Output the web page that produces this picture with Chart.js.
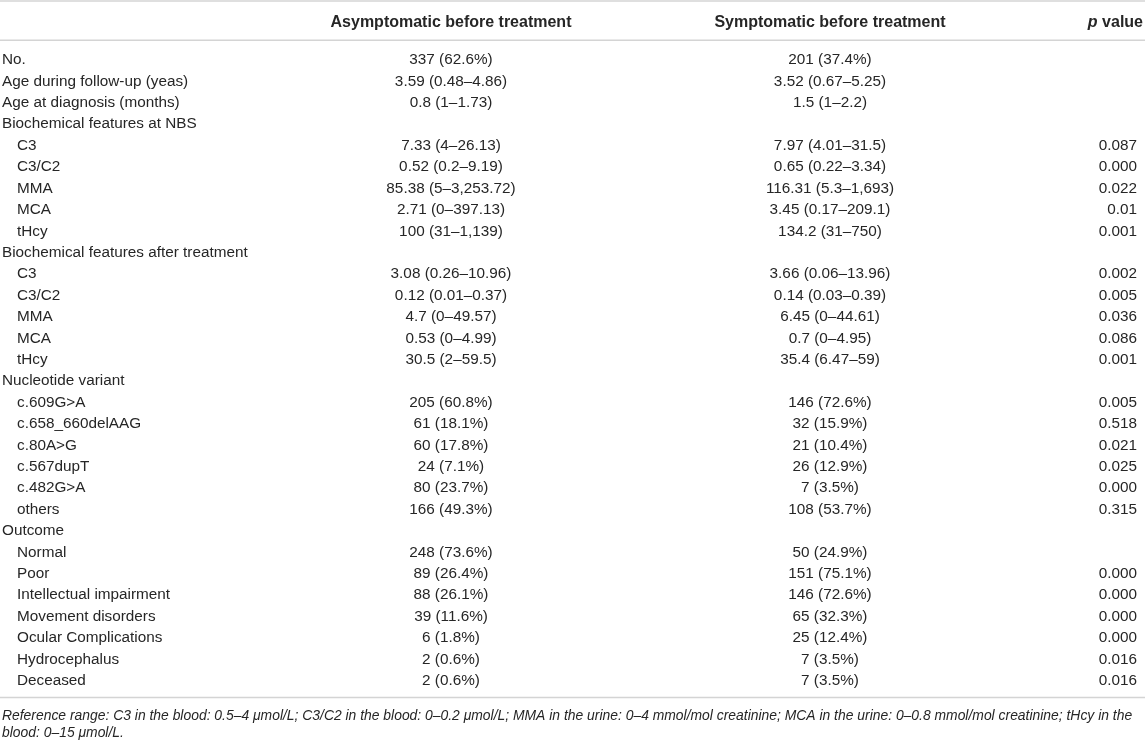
<!DOCTYPE html>
<html>
<head>
<meta charset="utf-8">
<script src="https://cdn.jsdelivr.net/npm/chart.js@4.4.1/dist/chart.umd.min.js"></script>
<style>
  body { margin: 0; background: #fff; }
  canvas { display: block; }
</style>
</head>
<body>
<canvas id="table" width="1145" height="746"></canvas>
<script>
// row labels, level 1 rows are the indented sub items
const rowLabels = [
    "No.", "Age during follow-up (yeas)", "Age at diagnosis (months)",
    "Biochemical features at NBS", "C3", "C3/C2", "MMA", "MCA", "tHcy",
    "Biochemical features after treatment", "C3", "C3/C2", "MMA", "MCA", "tHcy",
    "Nucleotide variant", "c.609G>A", "c.658_660delAAG", "c.80A>G", "c.567dupT", "c.482G>A", "others",
    "Outcome", "Normal", "Poor", "Intellectual impairment", "Movement disorders",
    "Ocular Complications", "Hydrocephalus", "Deceased"
];
const rowLevel = [0, 0, 0, 0, 1, 1, 1, 1, 1, 0, 1, 1, 1, 1, 1, 0, 1, 1, 1, 1, 1, 1, 0, 1, 1, 1, 1, 1, 1, 1];

const asymptomatic = [
    "337 (62.6%)", "3.59 (0.48–4.86)", "0.8 (1–1.73)",
    "", "7.33 (4–26.13)", "0.52 (0.2–9.19)", "85.38 (5–3,253.72)", "2.71 (0–397.13)", "100 (31–1,139)",
    "", "3.08 (0.26–10.96)", "0.12 (0.01–0.37)", "4.7 (0–49.57)", "0.53 (0–4.99)", "30.5 (2–59.5)",
    "", "205 (60.8%)", "61 (18.1%)", "60 (17.8%)", "24 (7.1%)", "80 (23.7%)", "166 (49.3%)",
    "", "248 (73.6%)", "89 (26.4%)", "88 (26.1%)", "39 (11.6%)", "6 (1.8%)", "2 (0.6%)", "2 (0.6%)"
];
const symptomatic = [
    "201 (37.4%)", "3.52 (0.67–5.25)", "1.5 (1–2.2)",
    "", "7.97 (4.01–31.5)", "0.65 (0.22–3.34)", "116.31 (5.3–1,693)", "3.45 (0.17–209.1)", "134.2 (31–750)",
    "", "3.66 (0.06–13.96)", "0.14 (0.03–0.39)", "6.45 (0–44.61)", "0.7 (0–4.95)", "35.4 (6.47–59)",
    "", "146 (72.6%)", "32 (15.9%)", "21 (10.4%)", "26 (12.9%)", "7 (3.5%)", "108 (53.7%)",
    "", "50 (24.9%)", "151 (75.1%)", "146 (72.6%)", "65 (32.3%)", "25 (12.4%)", "7 (3.5%)", "7 (3.5%)"
];
const pValues = [
    "", "", "",
    "", "0.087", "0.000", "0.022", "0.01", "0.001",
    "", "0.002", "0.005", "0.036", "0.086", "0.001",
    "", "0.005", "0.518", "0.021", "0.025", "0.000", "0.315",
    "", "", "0.000", "0.000", "0.000", "0.000", "0.016", "0.016"
];

const headers = ["", "Asymptomatic before treatment", "Symptomatic before treatment", "value"];
const footnote = [
    "Reference range: C3 in the blood: 0.5–4 μmol/L; C3/C2 in the blood: 0–0.2 μmol/L; MMA in the urine: 0–4 mmol/mol creatinine; MCA in the urine: 0–0.8 mmol/mol creatinine; tHcy in the",
    "blood: 0–15 μmol/L."
];

// column anchors on the x scale (pixels since x runs 0..1145 over the full width)
const colX = [2, 451, 830, 1137];
const colAlign = ["left", "center", "center", "right"];
const indent = 15;

const FONT = '"Liberation Sans", Arial, sans-serif';
const TEXT = "#262626";
const RULE = "#d4d4d4";

function column(cells, i) {
    return {
        data: cells.map((c, j) => ({ x: colX[i], y: j })),
        cells: cells,
        align: colAlign[i],
        pointRadius: 0,
        pointHoverRadius: 0
    };
}

const tablePlugin = {
    id: "tableText",
    afterDatasetsDraw(chart) {
        const ctx = chart.ctx;
        const area = chart.chartArea;
        const x = chart.scales.x;
        ctx.save();

        // rules
        ctx.strokeStyle = RULE;
        ctx.lineWidth = 1.5;
        [1, area.top - 9, area.bottom + 6].forEach(y => {
            ctx.beginPath();
            ctx.moveTo(0, y);
            ctx.lineTo(chart.width, y);
            ctx.stroke();
        });

        // header
        ctx.fillStyle = TEXT;
        ctx.textBaseline = "middle";
        const hy = area.top - 27;
        ctx.font = "bold 16px " + FONT;
        ctx.textAlign = "center";
        ctx.fillText(headers[1], x.getPixelForValue(colX[1]), hy);
        ctx.fillText(headers[2], x.getPixelForValue(colX[2]), hy);
        ctx.textAlign = "right";
        const pr = x.getPixelForValue(colX[3]) + 6;
        ctx.fillText(" " + headers[3], pr, hy);
        const w = ctx.measureText(" " + headers[3]).width;
        ctx.font = "italic bold 16px " + FONT;
        ctx.fillText("p", pr - w, hy);

        // cells
        ctx.font = "15.3px " + FONT;
        chart.data.datasets.forEach((ds, i) => {
            const meta = chart.getDatasetMeta(i);
            ctx.textAlign = ds.align;
            meta.data.forEach((pt, j) => {
                const text = ds.cells[j];
                if (!text) return;
                const dx = i === 0 && rowLevel[j] === 1 ? indent : 0;
                ctx.fillText(text, pt.x + dx, pt.y);
            });
        });

        // footnote
        ctx.font = "italic 13.9px " + FONT;
        ctx.textAlign = "left";
        footnote.forEach((line, k) => {
            ctx.fillText(line, 2, area.bottom + 25 + k * 17);
        });
        ctx.restore();
    }
};

new Chart(document.getElementById("table"), {
    type: "scatter",
    data: {
        datasets: [
            column(rowLabels, 0),
            column(asymptomatic, 1),
            column(symptomatic, 2),
            column(pValues, 3)
        ]
    },
    options: {
        responsive: false,
        animation: false,
        events: [],
        layout: { padding: { top: 49.3, bottom: 54.4, left: 0, right: 0 } },
        plugins: {
            legend: { display: false },
            tooltip: { enabled: false }
        },
        scales: {
            x: { type: "linear", display: false, min: 0, max: 1145 },
            y: { type: "linear", display: false, reverse: true, min: -0.5, max: rowLabels.length - 0.5 }
        }
    },
    plugins: [tablePlugin]
});
</script>
</body>
</html>
